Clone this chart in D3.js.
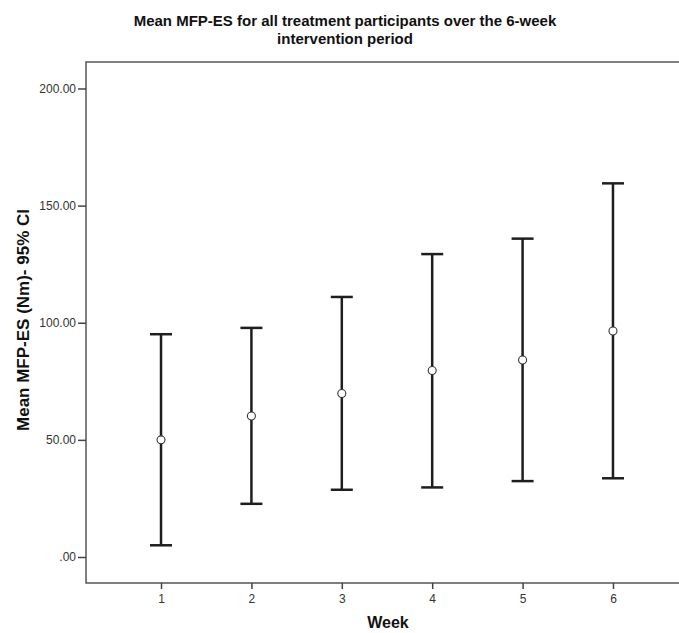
<!DOCTYPE html>
<html>
<head>
<meta charset="utf-8">
<script src="https://cdn.jsdelivr.net/npm/d3@7"></script>
<style>
  body { margin: 0; background: #fff; }
  text { font-family: "Liberation Sans", Arial, sans-serif; }
</style>
</head>
<body>
<div id="chart"></div>
<script>
// data
const weeks = [1, 2, 3, 4, 5, 6];
const means = [50.0, 60.2, 69.8, 79.6, 84.1, 96.5];
const lower = [5.0, 22.7, 28.7, 29.7, 32.4, 33.6];
const upper = [95.1, 97.8, 111.0, 129.3, 135.9, 159.5];
const yTicks = [0, 50, 100, 150, 200];

const W = 679, H = 633;
const margin = {top: 62, left: 86, bottom: 50};
const plotRight = 688; // frame runs past the crop on the right

const svg = d3.select("#chart").append("svg")
    .attr("width", W)
    .attr("height", H);

// scales
const x = d3.scalePoint()
    .domain(weeks)
    .range([margin.left, plotRight])
    .padding(0.83);

const y = d3.scaleLinear()
    .domain([-11.1, 211.3])
    .range([H - margin.bottom, margin.top]);

// frame (top + left + bottom)
svg.append("path")
    .attr("d", `M${plotRight},${margin.top}H${margin.left}V${H - margin.bottom}H${plotRight}`)
    .attr("fill", "none")
    .attr("stroke", "#555")
    .attr("stroke-width", 1.5);

// y axis
const yAxis = d3.axisLeft(y)
    .tickValues(yTicks)
    .tickSize(8)
    .tickPadding(2)
    .tickFormat(d => d === 0 ? ".00" : d3.format(".2f")(d));

const gy = svg.append("g")
    .attr("transform", `translate(${margin.left},0)`)
    .call(yAxis);
gy.select(".domain").remove();
gy.selectAll(".tick line").attr("stroke", "#444").attr("stroke-width", 1.5);
gy.selectAll(".tick text")
    .attr("fill", "#333")
    .style("font-size", "12px");

// x axis
const xAxis = d3.axisBottom(x)
    .tickSize(6)
    .tickPadding(5);

const gx = svg.append("g")
    .attr("transform", `translate(0,${H - margin.bottom})`)
    .call(xAxis);
gx.select(".domain").remove();
gx.selectAll(".tick line").attr("stroke", "#444").attr("stroke-width", 1.5);
gx.selectAll(".tick text")
    .attr("fill", "#333")
    .style("font-size", "12px");

// error bars
const rows = weeks.map((w, i) => ({w: w, m: means[i], lo: lower[i], hi: upper[i]}));
const capW = 11;

const bars = svg.append("g").selectAll("g")
    .data(rows)
    .join("g")
    .attr("stroke", "#1e1e1e")
    .attr("stroke-width", 2.5);

bars.append("line")
    .attr("x1", d => x(d.w)).attr("x2", d => x(d.w))
    .attr("y1", d => y(d.hi)).attr("y2", d => y(d.lo));
bars.append("line")
    .attr("x1", d => x(d.w) - capW).attr("x2", d => x(d.w) + capW)
    .attr("y1", d => y(d.hi)).attr("y2", d => y(d.hi));
bars.append("line")
    .attr("x1", d => x(d.w) - capW).attr("x2", d => x(d.w) + capW)
    .attr("y1", d => y(d.lo)).attr("y2", d => y(d.lo));

// mean markers
svg.append("g").selectAll("circle")
    .data(rows)
    .join("circle")
    .attr("cx", d => x(d.w))
    .attr("cy", d => y(d.m))
    .attr("r", 4)
    .attr("fill", "#fff")
    .attr("stroke", "#333")
    .attr("stroke-width", 1.1);

// title
const title = svg.append("text")
    .attr("x", 345)
    .attr("text-anchor", "middle")
    .style("font-size", "15px")
    .style("font-weight", "bold")
    .attr("fill", "#111");
title.append("tspan").attr("x", 345).attr("y", 26)
    .text("Mean MFP-ES for all treatment participants over the 6-week");
title.append("tspan").attr("x", 345).attr("y", 44)
    .text("intervention period");

// axis titles
svg.append("text")
    .attr("x", 388)
    .attr("y", 628)
    .attr("text-anchor", "middle")
    .style("font-size", "16px")
    .style("font-weight", "bold")
    .attr("fill", "#111")
    .text("Week");

svg.append("text")
    .attr("transform", "translate(29,320) rotate(-90)")
    .attr("text-anchor", "middle")
    .style("font-size", "17px")
    .style("font-weight", "bold")
    .attr("fill", "#111")
    .text("Mean MFP-ES (Nm)- 95% CI");
</script>
</body>
</html>
